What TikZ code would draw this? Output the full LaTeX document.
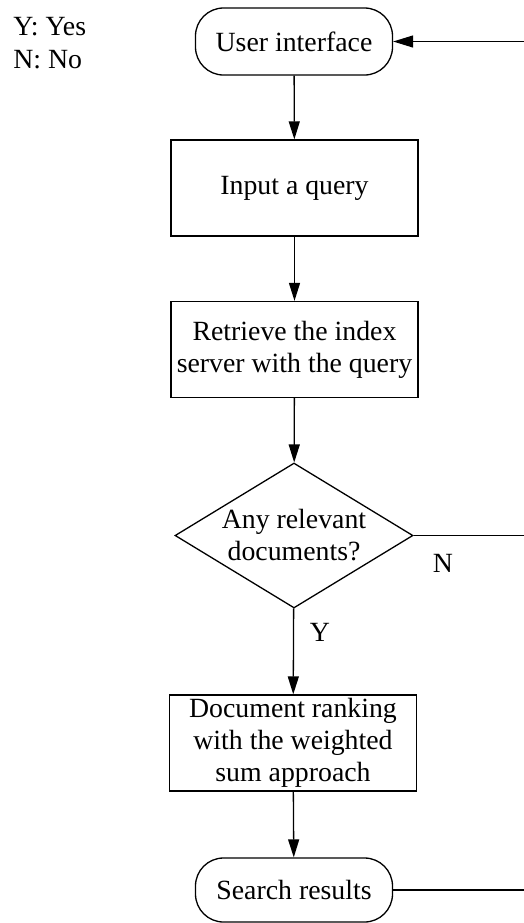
\documentclass[tikz,border=0pt]{standalone}
\usepackage{fontspec}
\setmainfont{Liberation Serif}
\usetikzlibrary{
    shapes.geometric,
    arrows.meta
}

\begin{document}
\begin{tikzpicture}[x=0.5pt, y=-0.5pt,
  every node/.style={font=\fontsize{13.9}{16}\selectfont},
  term/.style={draw, line width=0.65pt, rounded corners=14pt, minimum width=98.5pt, minimum height=33.5pt, inner sep=0pt},
  box/.style={draw, line width=0.65pt, minimum width=123.5pt, minimum height=48pt, inner sep=0pt, align=center},
  decide/.style={draw, diamond, aspect=1.64, line width=0.65pt, minimum width=119pt, minimum height=72.5pt, inner sep=0pt, align=center},
  flow/.style={line width=0.65pt, -{Triangle[length=9pt, width=5.5pt]}}
]
\useasboundingbox (0,0) rectangle (524,923);

% legend
\node[anchor=base west, inner sep=0pt] (legY) at (13,35) {Y: Yes};
\node[anchor=base west, inner sep=0pt] (legN) at (13,68.5) {N: No};

% main column
\node[term] (ui) at (294,41.5) {User interface};
\node[box] (query) at (294.5,188) {Input a query};
\node[box] (retrieve) at (294.5,349.5) {Retrieve the index\\server with the query};
\node[decide] (relevant) at (294,535.5) {Any relevant\\documents?};
\node[box] (ranking) at (293,743) {Document ranking\\with the weighted\\sum approach};
\node[term, minimum height=32pt] (results) at (294,890) {Search results};

% free ends at the right edge
\coordinate (uiEnd) at (524,41.5);
\coordinate (noEnd) at (524,535.5);
\coordinate (resEnd) at (524,890);

\draw[flow] (ui) -- (query);
\draw[flow] (query) -- (retrieve);
\draw[flow] (retrieve) -- (relevant);
\draw[flow] (relevant) -- (ranking);
\draw[flow] (ranking) -- (results);

\draw[line width=0.65pt] (relevant.east) -- (noEnd);
\draw[line width=0.65pt] (results.east) -- (resEnd);
\draw[flow, -{Triangle[length=10pt, width=6pt]}] (uiEnd) -- (ui.east);

\node (yes) at (320,632) {Y};
\node (no) at (443,563) {N};
\end{tikzpicture}
\end{document}
